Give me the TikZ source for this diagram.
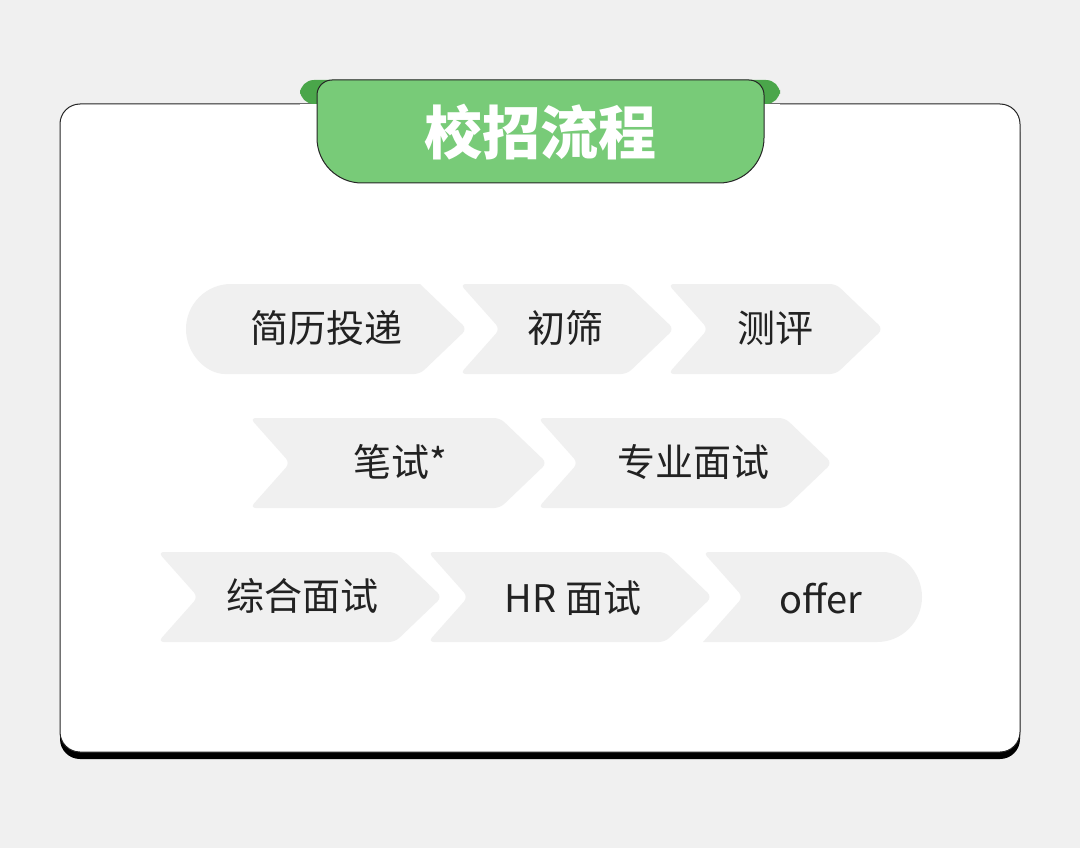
\documentclass[tikz,border=0pt]{standalone}
\usepackage{fontspec}
\setmainfont{Noto Sans CJK SC}
\usepackage{tikz}
\definecolor{bgray}{HTML}{F0F0F0}
\definecolor{tabgreen}{HTML}{78CB78}
\definecolor{tabdark}{HTML}{4AA64A}
\definecolor{ink}{HTML}{222222}
% chevron: left x, right top x, mid y
\newcommand{\chev}[3]{%
  \fill[bgray,rounded corners=6pt] (#1,#3-45) -- (#2,#3-45) -- (#2+47,#3) -- (#2,#3+45) -- (#1,#3+45) -- (#1+40,#3) -- cycle;}
\begin{document}
\begin{tikzpicture}[x=1pt,y=-1pt,
    steptext/.style={text=ink,font=\fontsize{38}{44}\selectfont,inner sep=0pt}]
    \fill[bgray] (0,0) rectangle (1080,848);
    \useasboundingbox (0,0) rectangle (1080,848);
    %card with shadow
    \fill[black,rounded corners=20pt] (60,112) rectangle (1020,759);
    \draw[fill=white,draw=black!85,line width=1pt,rounded corners=20pt] (60,104) rectangle (1020,752);
    %title tab
    \fill[tabdark,rounded corners=14pt] (300,104) -- (300,80) -- (780,80) -- (780,104) -- cycle;
    \fill[white] (300,104.5) rectangle (780,110);
    \draw[fill=tabgreen,draw=black!85,line width=1pt] (317,95) arc (180:270:15) -- (749,80) arc (270:360:15)
        -- (764,138) arc (0:90:45) -- (362,183) arc (90:180:45) -- cycle;
    \node[text=white,font=\fontsize{58}{66}\selectfont\bfseries,inner sep=0pt] (title) at (540,132) {校招流程};
    %row 1
    \fill[bgray,rounded corners=6pt] (420,284) -- (467,329) -- (420,374) -- (231,374)
        [sharp corners] arc (90:270:45) -- cycle;
    \chev{460}{627}{329}
    \chev{668}{836}{329}
    \node[steptext] (s1) at (326,328) {简历投递};
    \node[steptext] (s2) at (565,328) {初筛};
    \node[steptext] (s3) at (775,328) {测评};
    %row 2
    \chev{250}{500}{463}
    \chev{538}{785}{463}
    \node[steptext] (s4) at (400,462) {笔试*};
    \node[steptext] (s5) at (693,462) {专业面试};
    %row 3
    \chev{158}{395}{597}
    \chev{428}{665}{597}
    \fill[bgray,rounded corners=6pt] (703,642) -- (743,597) -- (703,552) -- (877,552)
        [sharp corners] arc (-90:90:45) -- cycle;
    \node[steptext] (s6) at (302,596) {综合面试};
    \node[steptext] (s7) at (573,598) {HR 面试};
    \node[steptext] (s8) at (821,598) {offer};
\end{tikzpicture}
\end{document}
